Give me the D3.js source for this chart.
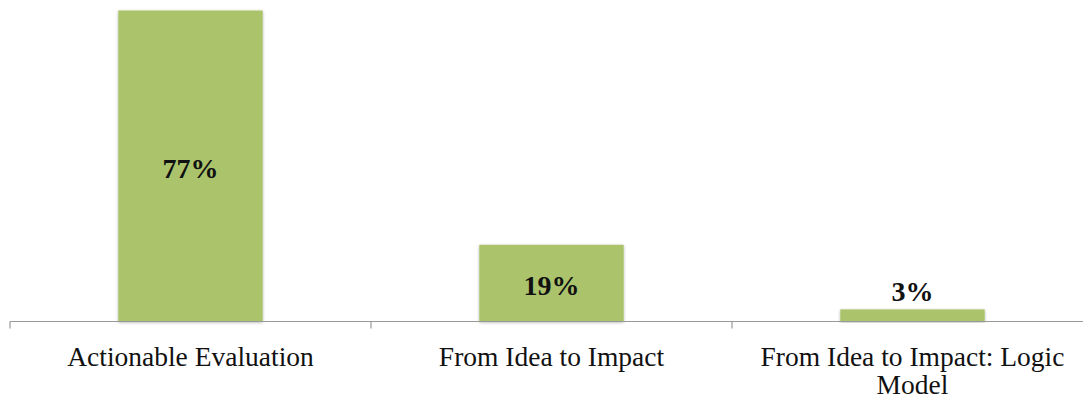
<!DOCTYPE html>
<html>
<head>
<meta charset="utf-8">
<script src="https://cdn.jsdelivr.net/npm/d3@7"></script>
<style>
  body { margin: 0; background: #fff; }
  svg text { font-family: "Liberation Serif", "DejaVu Serif", serif; }
</style>
</head>
<body>
<div id="chart"></div>
<script>
// chart data
var categories = ["Actionable Evaluation", "From Idea to Impact", "From Idea to Impact: Logic Model"];
var values = [77, 19, 3];
var valueLabels = ["77%", "19%", "3%"];

var width = 1083, height = 401;
var baseY = 321.5;

var svg = d3.select("#chart")
    .append("svg")
    .attr("width", width)
    .attr("height", height);

// soft shadow like the office chart
var defs = svg.append("defs");
var filter = defs.append("filter").attr("id", "shadow")
    .attr("x", "-10%").attr("y", "-10%").attr("width", "120%").attr("height", "120%");
filter.append("feDropShadow")
    .attr("dx", 0).attr("dy", 1).attr("stdDeviation", 1.5)
    .attr("flood-color", "#000").attr("flood-opacity", 0.3);

var x = d3.scaleBand()
    .domain(categories)
    .range([10, 1093])
    .paddingInner(0)
    .paddingOuter(0);

var y = d3.scaleLinear()
    .domain([0, 77])
    .range([baseY, 10.5]);

var barW = x.bandwidth() * 0.4;

// bars
svg.selectAll("rect.bar")
    .data(values)
    .enter().append("rect")
    .attr("class", "bar")
    .attr("x", function (d, i) { return x(categories[i]) + x.bandwidth() / 2 - barW / 2; })
    .attr("y", function (d) { return y(d); })
    .attr("width", barW)
    .attr("height", function (d) { return baseY - y(d); })
    .attr("fill", "#abc46c")
    .attr("filter", "url(#shadow)");

// axis line and ticks
var axis = svg.append("g")
    .attr("transform", "translate(0," + baseY + ")")
    .call(d3.axisBottom(x).tickSize(0).tickFormat(""));
axis.select(".domain").attr("stroke", "#999").attr("stroke-width", 1.2).attr("d", "M10,0H1083");

svg.selectAll("line.tick")
    .data(categories)
    .enter().append("line")
    .attr("class", "tick")
    .attr("x1", function (d) { return x(d); })
    .attr("x2", function (d) { return x(d); })
    .attr("y1", baseY)
    .attr("y2", baseY + 7)
    .attr("stroke", "#999")
    .attr("stroke-width", 1.2);

// category labels, wrapped
var wrapped = [["Actionable Evaluation"], ["From Idea to Impact"], ["From Idea to Impact: Logic", "Model"]];
svg.selectAll("text.cat")
    .data(categories)
    .enter().append("text")
    .attr("class", "cat")
    .attr("x", function (d) { return x(d) + x.bandwidth() / 2; })
    .attr("y", 366)
    .attr("text-anchor", "middle")
    .attr("font-size", 27.5)
    .attr("fill", "#111")
    .each(function (d, i) {
        var t = d3.select(this);
        wrapped[i].forEach(function (line, j) {
            t.append("tspan")
                .attr("x", x(d) + x.bandwidth() / 2)
                .attr("dy", j === 0 ? 0 : 28)
                .text(line);
        });
    });

// value labels
svg.selectAll("text.val")
    .data(values)
    .enter().append("text")
    .attr("class", "val")
    .attr("x", function (d, i) { return x(categories[i]) + x.bandwidth() / 2; })
    .attr("y", function (d) {
        var h = baseY - y(d);
        return h > 40 ? y(d) + h / 2 + 11.5 : y(d) - 8;
    })
    .attr("text-anchor", "middle")
    .attr("font-size", 28)
    .attr("font-weight", "bold")
    .attr("fill", "#111")
    .text(function (d, i) { return valueLabels[i]; });
</script>
</body>
</html>
